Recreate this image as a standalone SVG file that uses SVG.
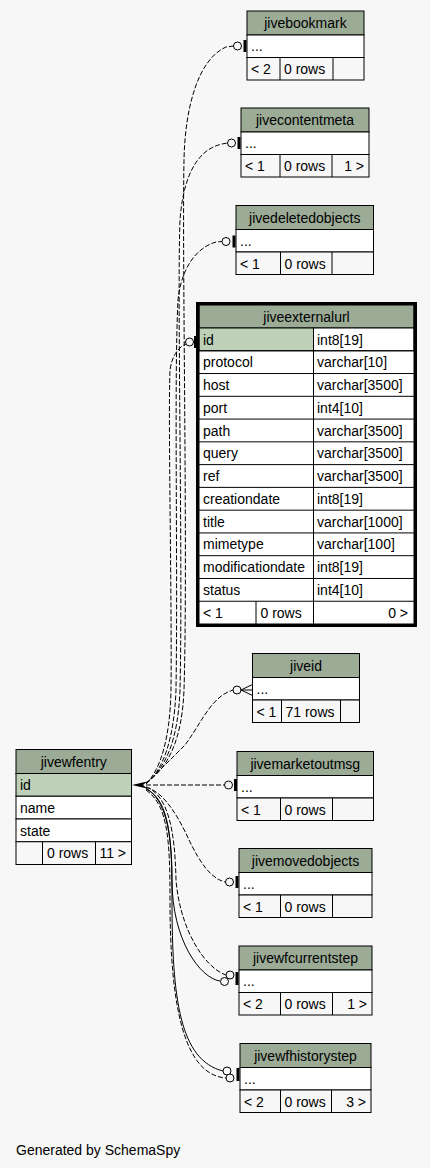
<svg xmlns="http://www.w3.org/2000/svg" width="430" height="1168" viewBox="0 0 430 1168">
<style>
text{font-family:"Liberation Sans",Arial,sans-serif;font-size:14px;fill:#000}
.c{text-anchor:middle}
.e{text-anchor:end}
.hdr{fill:#9bab96;stroke:#000;stroke-width:1}
.cell{fill:#fff;stroke:#000;stroke-width:1}
.pk{fill:#bed1b8;stroke:#000;stroke-width:1}
.ft{fill:#f7f7f7;stroke:#000;stroke-width:1}
.ln{stroke:#000;stroke-width:1}
.edge{fill:none;stroke:#000;stroke-width:1}
.dash{stroke-dasharray:5,2}
.halo{fill:none;stroke:#fff;stroke-width:1}
.od{fill:#f7f7f7;stroke:#000;stroke-width:1}
.bar{fill:#000}
</style>
<rect x="0" y="0" width="430" height="1168" fill="#f7f7f7"/>

<g id="connectors">
  <g transform="translate(2,0)">
    <path class="halo" d="M146,783 C168,768 182,740 184,690 C188,560 182,260 184,160 C185,110 197,60 226,47 L233.5,46"/>
    <path class="halo" d="M146,783 C166,768 178,740 180,690 C183,560 177,300 180,220 C183,180 195,150 222,144 L227.5,143"/>
    <path class="halo" d="M146,784 C163,770 174,740 176,690 C178,560 174,380 178,300 C181,270 195,248 216,242 L222,241.5"/>
    <path class="halo" d="M146,784 C160,770 170,740 171,690 C172,600 168,420 170,370 C172,355 179,347 186,344"/>
    <path class="halo" d="M146,784 C160,770 175,755 185,745 C200,725 210,700 228,692 L233,690"/>
    <path class="halo" d="M146,787 C165,792 180,820 190,842 C200,862 210,878 225,882"/>
    <path class="halo" d="M146,788 C165,800 172,830 172,880 C172,940 200,978 220,981"/>
    <path class="halo" d="M146,787 C168,795 175,830 176,880 C180,930 205,968 226,975"/>
    <path class="halo" d="M146,789 C170,800 172,840 172,900 C172,1000 180,1060 223,1071"/>
    <path class="halo" d="M146,790 C168,805 170,840 170,900 C170,1010 185,1075 226,1078"/>
  </g>
  <!-- jivebookmark -->
  <path class="edge dash" d="M146,783 C168,768 182,740 184,690 C188,560 182,260 184,160 C185,110 197,60 226,47 L233.5,46"/>
  <circle class="od" cx="237.5" cy="46" r="4"/>
  <rect class="bar" x="243.5" y="40" width="3" height="12"/>
  <!-- jivecontentmeta -->
  <path class="edge dash" d="M146,783 C166,768 178,740 180,690 C183,560 177,300 180,220 C183,180 195,150 222,144 L227.5,143"/>
  <circle class="od" cx="231.5" cy="143" r="4"/>
  <rect class="bar" x="237.5" y="137" width="3" height="12"/>
  <!-- jivedeletedobjects -->
  <path class="edge dash" d="M146,784 C163,770 174,740 176,690 C178,560 174,380 178,300 C181,270 195,248 216,242 L222,241.5"/>
  <circle class="od" cx="226" cy="241.5" r="4"/>
  <rect class="bar" x="232.5" y="235.5" width="3" height="12"/>
  <!-- jiveexternalurl -->
  <path class="edge dash" d="M146,784 C160,770 170,740 171,690 C172,600 168,420 170,370 C172,355 179,347 186,344"/>
  <circle class="od" cx="189.5" cy="342" r="4"/>
  <rect class="bar" x="194" y="336" width="3" height="12"/>
  <!-- jiveid -->
  <path class="edge dash" d="M146,784 C160,770 175,755 185,745 C200,725 210,700 228,692 L233,690"/>
  <circle class="od" cx="237" cy="690" r="4"/>
  <path class="edge" d="M241,690 L252.5,684.5 M241,690 L252.5,690 M241,690 L252.5,695.5"/>
  <!-- jivemarketoutmsg -->
  <path class="edge dash" d="M146,785 L224.5,785"/>
  <circle class="od" cx="228.5" cy="785" r="4"/>
  <rect class="bar" x="234" y="779" width="3" height="12"/>
  <!-- jivemovedobjects -->
  <path class="edge dash" d="M146,787 C165,792 180,820 190,842 C200,862 210,878 225,882"/>
  <circle class="od" cx="229.5" cy="882" r="4"/>
  <rect class="bar" x="235.5" y="876" width="3" height="12"/>
  <!-- jivewfcurrentstep -->
  <path class="edge" d="M146,788 C165,800 172,830 172,880 C172,940 200,978 220,981"/>
  <path class="edge dash" d="M146,787 C168,795 175,830 176,880 C180,930 205,968 226,975"/>
  <circle class="od" cx="224.5" cy="981.5" r="4"/>
  <circle class="od" cx="230" cy="975" r="4"/>
  <rect class="bar" x="235.5" y="972" width="3" height="13"/>
  <!-- jivewfhistorystep -->
  <path class="edge" d="M146,789 C170,800 172,840 172,900 C172,1000 180,1060 223,1071"/>
  <path class="edge dash" d="M146,790 C168,805 170,840 170,900 C170,1010 185,1075 226,1078"/>
  <circle class="od" cx="227" cy="1071" r="4"/>
  <circle class="od" cx="230" cy="1078" r="4"/>
  <rect class="bar" x="236.5" y="1068" width="3" height="13"/>
  <!-- arrowhead at jivewfentry -->
  <polygon points="132,785 147,781.5 143,785 147,788.5" fill="#000"/>
</g>

<g id="jivebookmark">
  <rect class="hdr" x="247" y="11" width="117" height="24"/>
  <rect class="cell" x="247" y="35" width="117" height="22.5"/>
  <rect class="ft" x="247" y="57.5" width="117" height="22.5"/>
  <line class="ln" x1="280" y1="57.5" x2="280" y2="80"/>
  <line class="ln" x1="333" y1="57.5" x2="333" y2="80"/>
  <text class="c" x="305.5" y="28">jivebookmark</text>
  <text x="251" y="51">...</text>
  <text x="251" y="74">&lt; 2</text>
  <text x="284" y="74">0 rows</text>
</g>

<g id="jivecontentmeta">
  <rect class="hdr" x="241" y="108" width="128" height="24"/>
  <rect class="cell" x="241" y="132" width="128" height="22.5"/>
  <rect class="ft" x="241" y="154.5" width="128" height="22.5"/>
  <line class="ln" x1="280" y1="154.5" x2="280" y2="177"/>
  <line class="ln" x1="332" y1="154.5" x2="332" y2="177"/>
  <text class="c" x="305" y="125">jivecontentmeta</text>
  <text x="245" y="148">...</text>
  <text x="245" y="171">&lt; 1</text>
  <text x="284" y="171">0 rows</text>
  <text class="e" x="364" y="171">1 &gt;</text>
</g>

<g id="jivedeletedobjects">
  <rect class="hdr" x="236" y="205.5" width="137.5" height="24"/>
  <rect class="cell" x="236" y="229.5" width="137.5" height="22.5"/>
  <rect class="ft" x="236" y="252" width="137.5" height="22.5"/>
  <line class="ln" x1="280.5" y1="252" x2="280.5" y2="274.5"/>
  <line class="ln" x1="332" y1="252" x2="332" y2="274.5"/>
  <text class="c" x="304.75" y="222.5">jivedeletedobjects</text>
  <text x="240" y="245.5">...</text>
  <text x="240" y="268.5">&lt; 1</text>
  <text x="284.5" y="268.5">0 rows</text>
</g>

<g id="jiveexternalurl">
  <rect x="197.5" y="303.5" width="218" height="322" fill="#fff" stroke="#000" stroke-width="3"/>
  <rect class="hdr" x="199" y="305" width="215" height="23"/>
  <rect class="pk" x="199" y="328" width="114.5" height="22.77"/>
  <rect class="cell" x="313.5" y="328" width="100.5" height="22.77"/>
  <g fill="none" stroke="#000" stroke-width="1">
    <path d="M199,350.77H414M199,373.54H414M199,396.31H414M199,419.08H414M199,441.85H414M199,464.62H414M199,487.39H414M199,510.16H414M199,532.93H414M199,555.7H414M199,578.47H414M199,601.24H414M199,624H414"/>
    <path d="M313.5,328V601.24M256,601.24V624M313.5,601.24V624M199,305V624M414,305V624"/>
  </g>
  <text class="c" x="306.5" y="322">jiveexternalurl</text>
  <text x="203" y="344.5">id</text><text x="317" y="344.5">int8[19]</text>
  <text x="203" y="367.2">protocol</text><text x="317" y="367.2">varchar[10]</text>
  <text x="203" y="390">host</text><text x="317" y="390">varchar[3500]</text>
  <text x="203" y="412.8">port</text><text x="317" y="412.8">int4[10]</text>
  <text x="203" y="435.5">path</text><text x="317" y="435.5">varchar[3500]</text>
  <text x="203" y="458.3">query</text><text x="317" y="458.3">varchar[3500]</text>
  <text x="203" y="481">ref</text><text x="317" y="481">varchar[3500]</text>
  <text x="203" y="503.8">creationdate</text><text x="317" y="503.8">int8[19]</text>
  <text x="203" y="526.6">title</text><text x="317" y="526.6">varchar[1000]</text>
  <text x="203" y="549.3">mimetype</text><text x="317" y="549.3">varchar[100]</text>
  <text x="203" y="572.1">modificationdate</text><text x="317" y="572.1">int8[19]</text>
  <text x="203" y="594.9">status</text><text x="317" y="594.9">int4[10]</text>
  <text x="203" y="617.6">&lt; 1</text>
  <text x="260.5" y="617.6">0 rows</text>
  <text class="e" x="408" y="617.6">0 &gt;</text>
</g>

<g id="jiveid">
  <rect class="hdr" x="252.5" y="653.5" width="107" height="24"/>
  <rect class="cell" x="252.5" y="677.5" width="107" height="22.5"/>
  <rect class="ft" x="252.5" y="700" width="107" height="22.5"/>
  <line class="ln" x1="281.5" y1="700" x2="281.5" y2="722.5"/>
  <line class="ln" x1="340.5" y1="700" x2="340.5" y2="722.5"/>
  <text class="c" x="306" y="670.5">jiveid</text>
  <text x="256.5" y="693.5">...</text>
  <text x="256.5" y="716.5">&lt; 1</text>
  <text x="285.5" y="716.5">71 rows</text>
</g>

<g id="jivemarketoutmsg">
  <rect class="hdr" x="237" y="751.5" width="136.5" height="24"/>
  <rect class="cell" x="237" y="775.5" width="136.5" height="22.5"/>
  <rect class="ft" x="237" y="798" width="136.5" height="22.5"/>
  <line class="ln" x1="280.5" y1="798" x2="280.5" y2="820.5"/>
  <line class="ln" x1="332.5" y1="798" x2="332.5" y2="820.5"/>
  <text class="c" x="305.25" y="768.5">jivemarketoutmsg</text>
  <text x="241" y="791.5">...</text>
  <text x="241" y="814.5">&lt; 1</text>
  <text x="284.5" y="814.5">0 rows</text>
</g>

<g id="jivemovedobjects">
  <rect class="hdr" x="239" y="848.5" width="133" height="24"/>
  <rect class="cell" x="239" y="872.5" width="133" height="22.5"/>
  <rect class="ft" x="239" y="895" width="133" height="22.5"/>
  <line class="ln" x1="280.5" y1="895" x2="280.5" y2="917.5"/>
  <line class="ln" x1="332.5" y1="895" x2="332.5" y2="917.5"/>
  <text class="c" x="305.5" y="865.5">jivemovedobjects</text>
  <text x="243" y="888.5">...</text>
  <text x="243" y="911.5">&lt; 1</text>
  <text x="284.5" y="911.5">0 rows</text>
</g>

<g id="jivewfcurrentstep">
  <rect class="hdr" x="239" y="946" width="133" height="24"/>
  <rect class="cell" x="239" y="970" width="133" height="22.5"/>
  <rect class="ft" x="239" y="992.5" width="133" height="22.5"/>
  <line class="ln" x1="280.5" y1="992.5" x2="280.5" y2="1015"/>
  <line class="ln" x1="332.5" y1="992.5" x2="332.5" y2="1015"/>
  <text class="c" x="305.5" y="963">jivewfcurrentstep</text>
  <text x="243" y="986">...</text>
  <text x="243" y="1009">&lt; 2</text>
  <text x="284.5" y="1009">0 rows</text>
  <text class="e" x="367" y="1009">1 &gt;</text>
</g>

<g id="jivewfhistorystep">
  <rect class="hdr" x="240" y="1043.5" width="131" height="24"/>
  <rect class="cell" x="240" y="1067.5" width="131" height="22.5"/>
  <rect class="ft" x="240" y="1090" width="131" height="22.5"/>
  <line class="ln" x1="280.5" y1="1090" x2="280.5" y2="1112.5"/>
  <line class="ln" x1="331.5" y1="1090" x2="331.5" y2="1112.5"/>
  <text class="c" x="305.5" y="1060.5">jivewfhistorystep</text>
  <text x="244" y="1083.5">...</text>
  <text x="244" y="1106.5">&lt; 2</text>
  <text x="284.5" y="1106.5">0 rows</text>
  <text class="e" x="366" y="1106.5">3 &gt;</text>
</g>

<g id="jivewfentry">
  <rect class="hdr" x="16" y="749.5" width="115.5" height="24"/>
  <rect class="pk" x="16" y="773.5" width="115.5" height="22.75"/>
  <rect class="cell" x="16" y="796.25" width="115.5" height="22.75"/>
  <rect class="cell" x="16" y="819" width="115.5" height="22.75"/>
  <rect class="ft" x="16" y="841.75" width="115.5" height="22.75"/>
  <line class="ln" x1="42.5" y1="841.75" x2="42.5" y2="864.5"/>
  <line class="ln" x1="95.5" y1="841.75" x2="95.5" y2="864.5"/>
  <text class="c" x="73.75" y="766.5">jivewfentry</text>
  <text x="20" y="790">id</text>
  <text x="20" y="812.7">name</text>
  <text x="20" y="835.5">state</text>
  <text x="47" y="858.2">0 rows</text>
  <text class="e" x="126" y="858.2">11 &gt;</text>
</g>

<text x="16" y="1155">Generated by SchemaSpy</text>
</svg>
